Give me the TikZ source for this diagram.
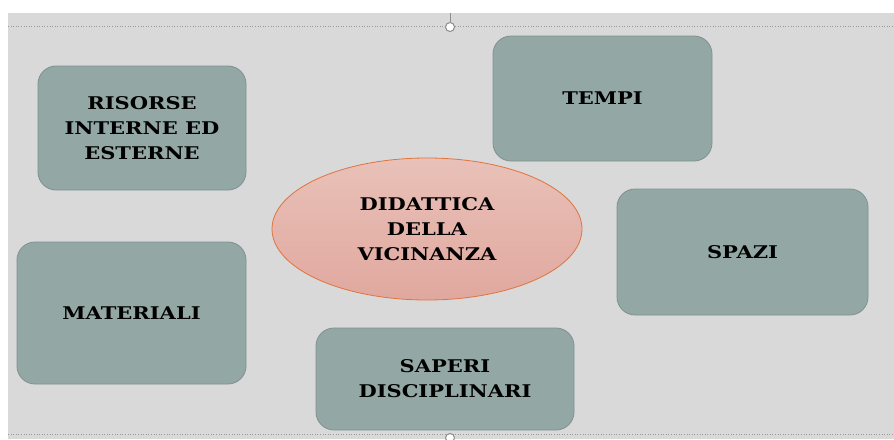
\documentclass[tikz,border=0pt]{standalone}
\usepackage{fontspec}
\setmainfont[FakeStretch=1.2]{DejaVu Serif}
\usepackage{tikz}
\usetikzlibrary{shapes.geometric}

\definecolor{boxfill}{HTML}{93A8A5}
\definecolor{boxline}{HTML}{7E918E}
\definecolor{ovaltop}{HTML}{E9C1B8}
\definecolor{ovalbot}{HTML}{E0A89F}
\definecolor{ovalline}{HTML}{E0743F}
\definecolor{slidebg}{HTML}{D9D9D9}

\tikzset{
    topic/.style={draw=boxline, fill=boxfill, line width=0.8pt, rounded corners=18pt,
        align=center, font=\fontsize{17.5}{25}\selectfont\bfseries, text=black},
    core/.style={ellipse, draw=ovalline, line width=0.8pt, top color=ovaltop, bottom color=ovalbot,
        align=center, font=\fontsize{17.5}{25}\selectfont\bfseries, text=black, inner sep=0pt},
    handle/.style={circle, draw=gray!90, fill=white, line width=1pt, minimum size=9pt, inner sep=0pt}
}

\begin{document}
\begin{tikzpicture}[x=1pt, y=-1pt]

    % Canvas and slide area
    \useasboundingbox (0,0) rectangle (894,439);
    \fill[white] (0,0) rectangle (894,439);
    \fill[slidebg] (8,13) rectangle (894,439);

    % Selection frame (dotted) with handles
    \draw[gray!80, dotted, line width=0.6pt] (8,26) -- (894,26);
    \draw[gray!80, dotted, line width=0.6pt] (8,434) -- (894,434);
    \draw[gray!90, line width=0.8pt] (450,13) -- (450,22);
    \node[handle] (hTop) at (450,27) {};
    \node[handle] (hBot) at (450,438) {};

    % Central idea
    \node[core, minimum width=310pt, minimum height=142pt] (didattica) at (427,229)
        {DIDATTICA\\DELLA\\VICINANZA};

    % Surrounding topics
    \node[topic, minimum width=208pt, minimum height=124pt] (risorse) at (142,128)
        {RISORSE\\INTERNE ED\\ESTERNE};
    \node[topic, minimum width=219pt, minimum height=125pt] (tempi) at (602.5,98.5)
        {TEMPI};
    \node[topic, minimum width=251pt, minimum height=126pt] (spazi) at (742.5,252)
        {SPAZI};
    \node[topic, minimum width=229pt, minimum height=142pt] (materiali) at (131.5,313)
        {MATERIALI};
    \node[topic, minimum width=258pt, minimum height=102pt] (saperi) at (445,379)
        {SAPERI\\DISCIPLINARI};

\end{tikzpicture}
\end{document}
